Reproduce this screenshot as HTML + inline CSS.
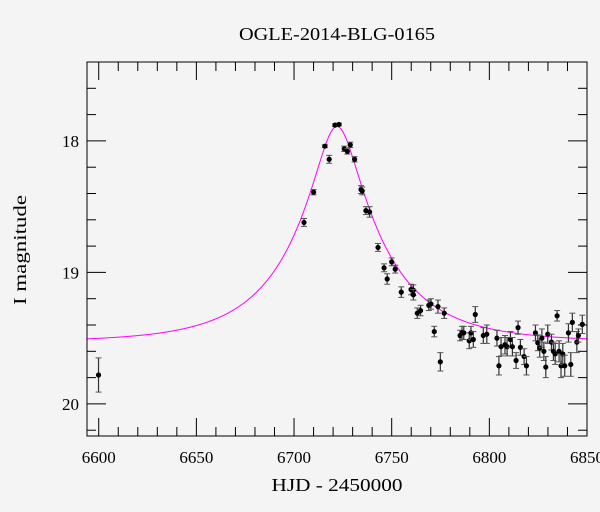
<!DOCTYPE html>
<html><head><meta charset="utf-8"><style>
html,body{margin:0;padding:0;background:#f4f4f4;}
svg{display:block;font-family:"Liberation Serif",serif;}
</style></head><body>
<svg id="chart" width="600" height="512" viewBox="0 0 600 512">
<rect width="600" height="512" fill="#f4f4f4"/>
<text x="337" y="40" font-size="18" text-anchor="middle" textLength="196" lengthAdjust="spacingAndGlyphs">OGLE-2014-BLG-0165</text>
<text x="337" y="491" font-size="18" text-anchor="middle" textLength="131" lengthAdjust="spacingAndGlyphs">HJD - 2450000</text>
<text x="0" y="0" font-size="18" text-anchor="middle" textLength="110" lengthAdjust="spacingAndGlyphs" transform="translate(26,250) rotate(-90)">I magnitude</text>
<g id="axes"></g>
<g id="model"></g>
<g id="points"></g>
<rect x="87" y="62" width="500" height="374" fill="none" stroke="#000" stroke-width="1"/>
</svg>
<script>
const times=[6599.9,6705.1,6710.0,6715.8,6718.0,6721.0,6723.0,6725.7,6727.3,6728.8,6731.0,6734.3,6734.9,6736.8,6738.7,6743.0,6746.1,6747.7,6750.0,6751.8,6754.9,6759.9,6761.1,6761.1,6763.1,6764.8,6769.0,6770.1,6771.8,6773.7,6774.9,6776.9,6785.0,6786.0,6786.9,6789.7,6790.6,6791.8,6792.8,6796.9,6798.7,6803.9,6804.9,6806.0,6808.0,6809.1,6810.8,6811.8,6813.7,6814.7,6815.9,6817.8,6819.0,6823.6,6824.8,6825.8,6826.9,6827.9,6828.9,6829.9,6831.8,6832.8,6833.7,6834.7,6835.7,6836.7,6837.6,6838.6,6840.5,6841.7,6842.5,6844.8,6845.6,6847.6];
const mags=[19.78,18.62,18.39,18.04,18.14,17.88,17.875,18.06,18.08,18.03,18.14,18.37,18.38,18.53,18.54,18.81,18.965,19.05,18.92,18.975,19.15,19.13,19.135,19.17,19.31,19.29,19.25,19.24,19.45,19.26,19.68,19.31,19.48,19.46,19.46,19.52,19.46,19.51,19.32,19.48,19.47,19.50,19.71,19.565,19.55,19.565,19.51,19.565,19.67,19.42,19.57,19.64,19.71,19.46,19.535,19.575,19.50,19.60,19.72,19.47,19.53,19.60,19.62,19.33,19.60,19.71,19.62,19.71,19.46,19.70,19.38,19.53,19.48,19.395];
const errs=[0.13,0.03,0.02,0.01,0.03,0.01,0.01,0.02,0.02,0.02,0.02,0.03,0.03,0.03,0.04,0.03,0.03,0.04,0.03,0.03,0.04,0.04,0.04,0.04,0.04,0.04,0.04,0.04,0.04,0.05,0.07,0.04,0.04,0.05,0.05,0.06,0.05,0.06,0.06,0.06,0.07,0.06,0.07,0.07,0.07,0.07,0.06,0.07,0.06,0.05,0.06,0.06,0.07,0.06,0.06,0.07,0.07,0.07,0.08,0.07,0.06,0.07,0.08,0.04,0.08,0.09,0.08,0.08,0.07,0.09,0.07,0.08,0.05,0.07];
const xTicks=[6600,6650,6700,6750,6800,6850];
const yTicks=[18,19,20];
const modelT0=6722, modelU0=0.225, modelTE=47, modelBase=19.53;

const X0=87,X1=587,Y0=62,Y1=436;
const xMin=6594,xMax=6850,yMin=17.40,yMax=20.244;
const sx=t=>X0+(t-xMin)/(xMax-xMin)*(X1-X0);
const sy=m=>Y0+(m-yMin)/(yMax-yMin)*(Y1-Y0);
const NS="http://www.w3.org/2000/svg";
function mk(tag,attrs,parent){const e=document.createElementNS(NS,tag);for(const k in attrs)e.setAttribute(k,attrs[k]);parent.appendChild(e);return e;}
const axes=document.getElementById('axes');
for(let t=6600;t<=6850;t+=10){
  const major=(t%50===0);const L=major?18:9;const x=sx(t);
  const a=mk('line',{x1:x,x2:x,y1:Y1,y2:Y1-L,stroke:'#000','stroke-width':1},axes);
  
  
  const b=mk('line',{x1:x,x2:x,y1:Y0,y2:Y0+L,stroke:'#000','stroke-width':1},axes);
  
  
}
xTicks.forEach(t=>{
  const tx=mk('text',{x:sx(t),y:463,'font-size':17,'text-anchor':'middle'},axes);
  tx.textContent=t;
  
  
});
for(let i=0;i<=14;i++){
  const m=17.4+i*0.2;const y=sy(m);if(y<Y0-0.5||y>Y1+0.5)continue;
  const major=Math.abs(m-Math.round(m))<0.01;const L=major?19:9;
  const a=mk('line',{x1:X0,x2:X0+L,y1:y,y2:y,stroke:'#000','stroke-width':1},axes);
  
  
  const b=mk('line',{x1:X1,x2:X1-L,y1:y,y2:y,stroke:'#000','stroke-width':1},axes);
  
  
}
yTicks.forEach(m=>{
  const tx=mk('text',{x:79,y:sy(m)+6,'font-size':17,'text-anchor':'end'},axes);
  tx.textContent=m;
  
  
});
let d='';
for(let t=xMin;t<=xMax;t+=0.5){
  const tau=(t-modelT0)/modelTE;const u=Math.sqrt(modelU0*modelU0+tau*tau);
  const A=(u*u+2)/(u*Math.sqrt(u*u+4));const m=modelBase-2.5*Math.log10(A);
  d+=(d?'L':'M')+sx(t).toFixed(2)+','+sy(m).toFixed(2);
}
const model=mk('path',{d:d,fill:'none',stroke:'#ff00ff','stroke-width':1},document.getElementById('model'));


const pts=document.getElementById('points');
times.forEach((t,i)=>{
  const x=sx(t),y=sy(mags[i]),ya=sy(mags[i]-errs[i]),yb=sy(mags[i]+errs[i]);
  const g=mk('g',{},pts);
  
  
  mk('line',{x1:x,x2:x,y1:ya,y2:yb,stroke:'#333','stroke-width':1.2},g);
  mk('line',{x1:x-3,x2:x+3,y1:ya,y2:ya,stroke:'#555','stroke-width':1},g);
  mk('line',{x1:x-3,x2:x+3,y1:yb,y2:yb,stroke:'#555','stroke-width':1},g);
  mk('circle',{cx:x,cy:y,r:2.6,fill:'#000'},g);
});
</script>
</body></html>
